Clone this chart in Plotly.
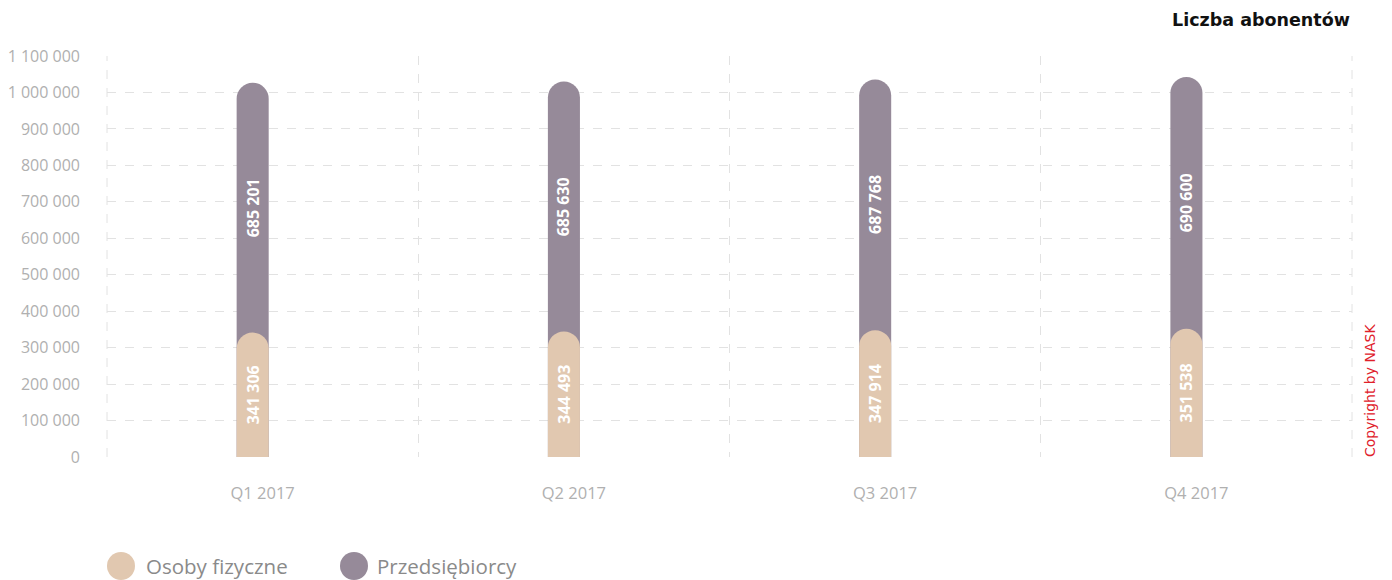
import plotly.graph_objects as go

quarters = ["Q1 2017", "Q2 2017", "Q3 2017", "Q4 2017"]
osoby = [341306, 344493, 347914, 351538]
przeds = [685201, 685630, 687768, 690600]
y_ticks = [0, 100000, 200000, 300000, 400000, 500000, 600000, 700000, 800000, 900000, 1000000, 1100000]

BEIGE = "#E1C8B0"
PURPLE = "#968A99"
GRID = "#e2e2e2"
LABEL_FONT = dict(color="white", size=16, family="Open Sans", weight="bold")

def fmt(v):
    return f"{v:,}".replace(",", " ")

totals = [a + b for a, b in zip(osoby, przeds)]
purple_mid = [a + b / 2 for a, b in zip(osoby, przeds)]

W = 0.103
OFF = -0.0835

# page body has an 8px margin -> design in reference pixels, shift figure
PAGE_OFF = 8
FIG_W, FIG_H = 1392 - PAGE_OFF, 580 - PAGE_OFF
PL, PR, PT, PB = 107, 1352, 56, 457  # plot area in reference pixels
L = PL - PAGE_OFF
T = PT - PAGE_OFF
R = FIG_W - (PR - PAGE_OFF)
B = FIG_H - (PB - PAGE_OFF)
PW = PR - PL
PH = PB - PT

def px_x(px):
    return (px - PL) / PW

def px_y(py):
    return (PB - py) / PH

fig = go.Figure()
# purple full stack (0 -> total), rounded top
fig.add_trace(go.Bar(x=quarters, y=totals, name="Przedsiębiorcy",
                     marker=dict(color=PURPLE, line=dict(width=0), cornerradius="50%"),
                     width=W, offset=OFF, showlegend=False, hoverinfo="skip",
                     xaxis="x", yaxis="y"))
# beige segment on an overlaying axis so it gets its own rounded top
fig.add_trace(go.Bar(x=quarters, y=osoby, name="Osoby fizyczne",
                     marker=dict(color=BEIGE, line=dict(width=0), cornerradius="50%"),
                     width=W, offset=OFF, showlegend=False,
                     text=[fmt(v) for v in osoby], textposition="inside",
                     insidetextanchor="middle", textangle=-90,
                     textfont=LABEL_FONT, constraintext="none",
                     xaxis="x2", yaxis="y"))

shapes = []
annotations = []
# outer vertical dashed borders of the plot area
for xp in (0, 1):
    shapes.append(dict(type="line", xref="paper", yref="paper", x0=xp, x1=xp, y0=0, y1=1,
                       line=dict(color=GRID, width=1, dash="dash"), layer="below"))

# purple value labels centred in the purple segment
for q, mid, v in zip(quarters, purple_mid, przeds):
    annotations.append(dict(text=fmt(v), x=q, y=mid, xref="x", yref="y",
                            xshift=-10, textangle=-90, showarrow=False,
                            xanchor="center", yanchor="middle",
                            font=LABEL_FONT))

legend_items = [("Osoby fizyczne", BEIGE, 121, 144), ("Przedsiębiorcy", PURPLE, 354, 375)]
for label, col, cx, tx in legend_items:
    shapes.append(dict(type="circle", xref="paper", yref="paper",
                       xsizemode="pixel", ysizemode="pixel",
                       xanchor=px_x(cx), yanchor=px_y(566),
                       x0=-14, x1=14, y0=-14, y1=14,
                       fillcolor=col, line=dict(width=0)))
    annotations.append(dict(text=label, xref="paper", yref="paper", x=px_x(tx), y=px_y(566),
                            xanchor="left", yanchor="middle", showarrow=False,
                            font=dict(family="Open Sans", size=20.5, color="#8a8a8a")))

annotations.append(dict(text="<b>Liczba abonentów</b>", xref="paper", yref="paper",
                        x=px_x(1352), y=px_y(20), xanchor="right", yanchor="middle",
                        showarrow=False, font=dict(family="DejaVu Sans", size=17.5, color="#111111")))
annotations.append(dict(text="Copyright by NASK", xref="paper", yref="paper",
                        x=px_x(1370), y=px_y(391), xanchor="center", yanchor="middle",
                        textangle=-90, showarrow=False,
                        font=dict(family="DejaVu Sans", size=14, color="#e0202a")))

XR = [-0.5, 3.5]
fig.update_layout(
    width=FIG_W, height=FIG_H,
    margin=dict(l=L, r=R, t=T, b=B, autoexpand=False),
    paper_bgcolor="white", plot_bgcolor="white",
    barmode="overlay",
    showlegend=False,
    shapes=shapes,
    annotations=annotations,
    font=dict(family="Open Sans"),
    xaxis=dict(type="category", categoryarray=quarters, tickson="boundaries", showgrid=True,
               gridcolor=GRID, griddash="dash", gridwidth=1,
               ticks="", showline=False, zeroline=False,
               range=XR,
               tickfont=dict(family="Open Sans", size=16.5, color="#b0b0b0"),
               ticklabelstandoff=24),
    xaxis2=dict(type="category", categoryarray=quarters, overlaying="x", range=XR,
                visible=False, showgrid=False),
    yaxis=dict(range=[0, 1100000], tickvals=y_ticks,
               ticktext=[fmt(v) for v in y_ticks],
               showgrid=True, gridcolor=GRID, griddash="dash", gridwidth=1,
               zeroline=False, showline=False, ticks="",
               tickfont=dict(family="Open Sans", size=16, color="#b0b0b0"),
               ticklabelstandoff=26),
)

fig.write_html("out.html")
